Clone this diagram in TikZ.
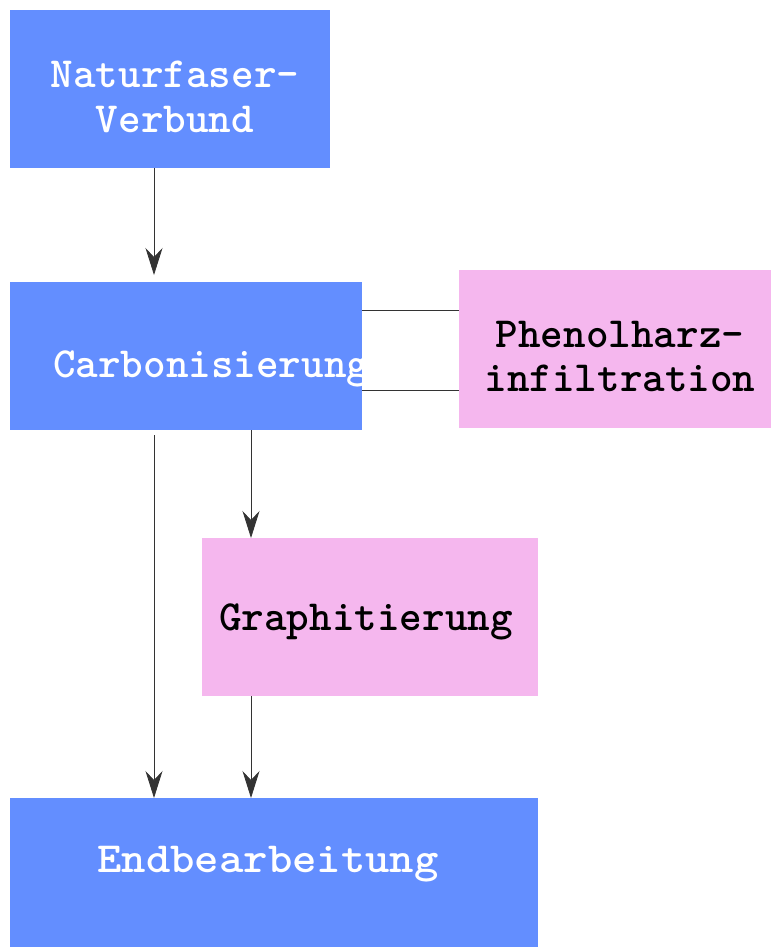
\documentclass[tikz,border=0pt]{standalone}
\usepackage{fontspec}
\usetikzlibrary{arrows.meta}

\begin{document}
\begin{tikzpicture}[x=1pt, y=-1pt, >={Stealth[length=27pt, width=17pt, inset=9pt]},
    box/.style={anchor=north west, inner sep=0pt},
    bluebox/.style={box, fill=stepblue},
    pinkbox/.style={box, fill=steppink},
    lbl/.style={anchor=base, inner sep=0pt, align=center,
      font=\fontsize{43}{44}\selectfont\ttfamily\bfseries},
    conn/.style={line width=0.8pt, draw=black!80}]
  \definecolor{stepblue}{RGB}{99,142,255}
  \definecolor{steppink}{RGB}{245,183,238}
  \useasboundingbox (0,0) rectangle (771,947);
  % Process steps.
  \node[bluebox, minimum width=320pt, minimum height=158pt] (natur) at (10,10) {};
  \node[bluebox, minimum width=352pt, minimum height=148pt] (carbon) at (10,282) {};
  \node[pinkbox, minimum width=312pt, minimum height=158pt] (phenol) at (459,270) {};
  \node[pinkbox, minimum width=336pt, minimum height=158pt] (graphit) at (202,538) {};
  \node[bluebox, minimum width=528pt, minimum height=149pt] (endbearb) at (10,798) {};
  % Their labels (base = last line).
  \node[lbl, text=white] (naturtxt) at (175,132) {Naturfaser-\\Verbund};
  \node[lbl, text=white, anchor=base west] (carbontxt) at (53,377) {Carbonisierung};
  \node[lbl] (phenoltxt) at (620,391) {Phenolharz-\\infiltration};
  \node[lbl] (graphittxt) at (366,630) {Graphitierung};
  \node[lbl, text=white] (endbearbtxt) at (268,872) {\scalebox{1.08}[1]{Endbearbeitung}};
  % Columns and rows for the connectors.
  \coordinate (xa) at (154,0);
  \coordinate (xb) at (251,0);
  \coordinate (ya) at (0,310);
  \coordinate (yb) at (0,390);
  % Arrows.
  \draw[conn, ->, shorten >=7pt] (natur.south -| xa) -- (carbon.north -| xa);
  \draw[conn, ->, shorten <=5pt] (carbon.south -| xa) -- (endbearb.north -| xa);
  \draw[conn, ->] (carbon.south -| xb) -- (graphit.north -| xb);
  \draw[conn, ->] (graphit.south -| xb) -- (endbearb.north -| xb);
  % Link to the infiltration step.
  \draw[conn] (carbon.east |- ya) -- (phenol.west |- ya);
  \draw[conn] (carbon.east |- yb) -- (phenol.west |- yb);
\end{tikzpicture}
\end{document}
